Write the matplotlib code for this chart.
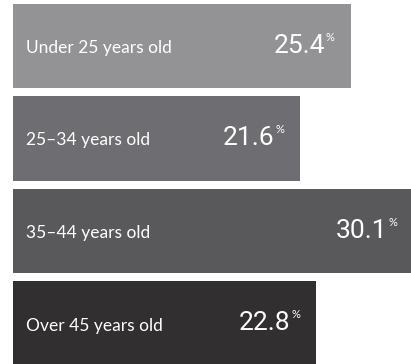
import matplotlib.pyplot as plt

groups = ["Under 25 years old", "25–34 years old", "35–44 years old", "Over 45 years old"]
shares = [25.4, 21.6, 30.1, 22.8]
colors = ["#939396", "#6e6e72", "#59595b", "#312f30"]

fig = plt.figure(figsize=(4.11, 3.64), dpi=100)
ax = fig.add_axes([0, 0, 1, 1])
ax.barh(range(len(groups)), shares, height=0.91, color=colors)

# 0 sits 13px in from the left, ~13.3px per percent
ax.set_xlim(-13 / 13.3, (411 - 13) / 13.3)
ax.set_ylim((364 - 46) / 92.5, -46 / 92.5)
ax.axis("off")

for i, (g, v) in enumerate(zip(groups, shares)):
    ax.annotate(g, (0, i), xytext=(13, -7), textcoords="offset pixels",
                ha="left", va="baseline", color="white", fontsize=12.5,
                family=["Lato", "DejaVu Sans"], weight="normal")
    # the widest bar runs off the edge, so don't clip its labels
    ax.annotate(f"{v}", (v, i), xytext=(-26, -7), textcoords="offset pixels",
                ha="right", va="baseline", color="white", fontsize=19,
                family=["Roboto", "DejaVu Sans"], weight="normal",
                annotation_clip=False)
    ax.annotate("%", (v, i), xytext=(-25, 14), textcoords="offset pixels",
                ha="left", va="top", color="white", fontsize=8,
                family=["Lato", "DejaVu Sans"], annotation_clip=False)

fig.savefig("out.png", dpi=100)
